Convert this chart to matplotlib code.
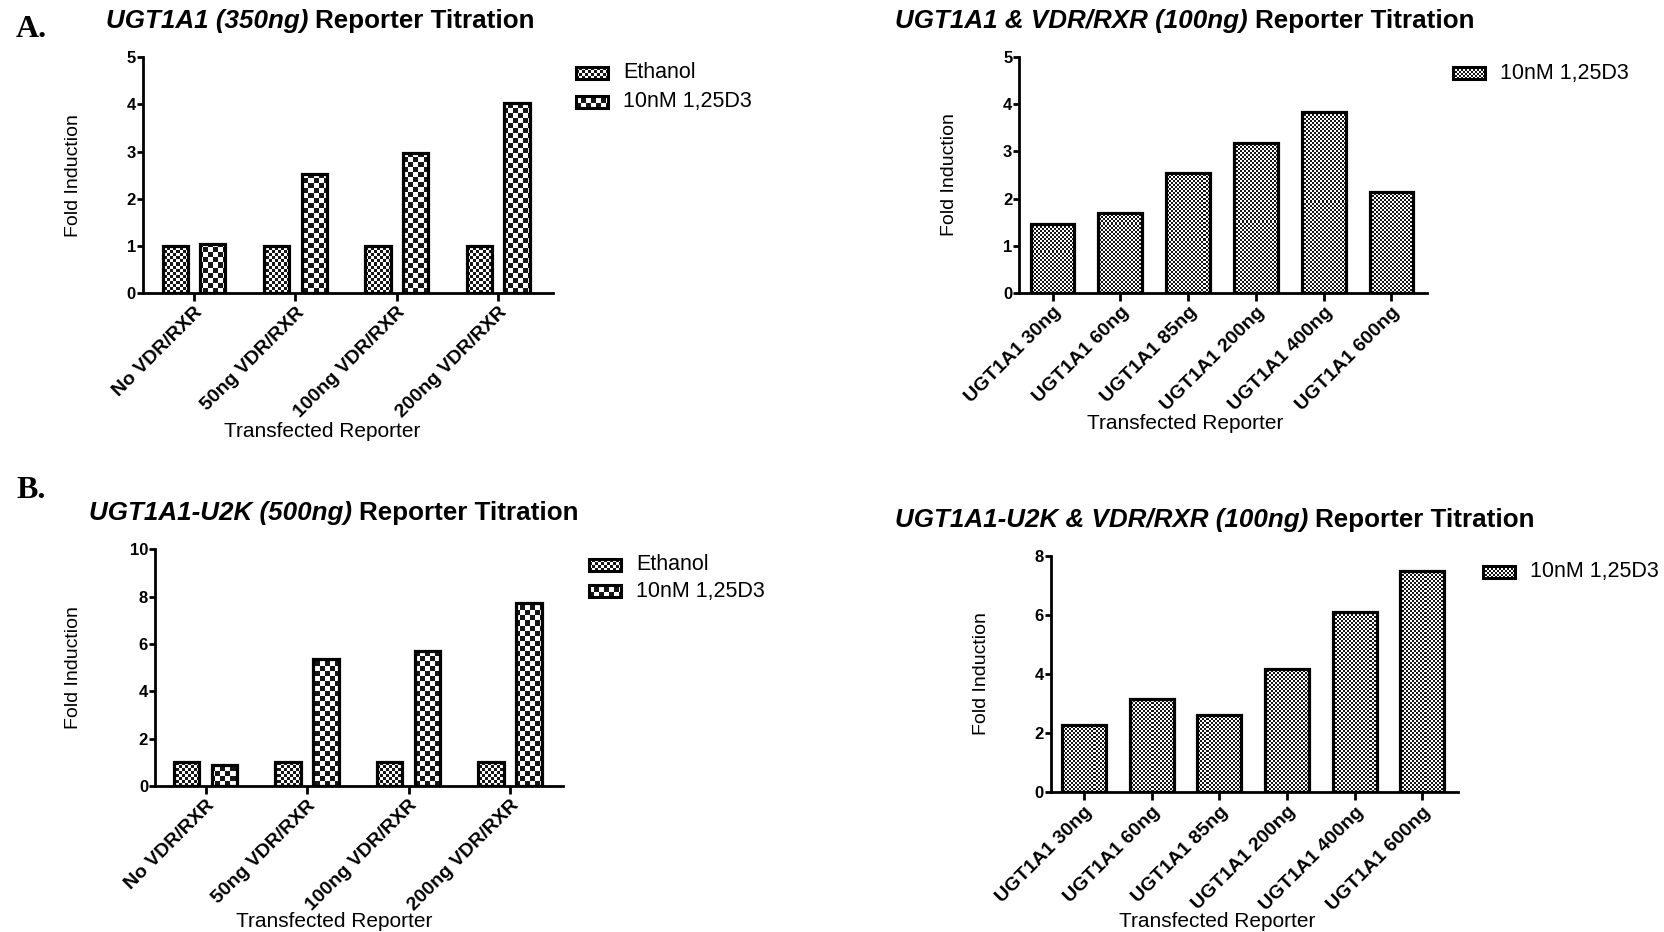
import numpy as np
import matplotlib
matplotlib.use("Agg")
import matplotlib.pyplot as plt
from matplotlib.colors import ListedColormap
from matplotlib.patches import Rectangle

plt.rcParams["font.family"] = ["Liberation Sans", "DejaVu Sans"]

W, H, DPI = 1665, 932, 100

# data
vdr_groups = ["No VDR/RXR", "50ng VDR/RXR", "100ng VDR/RXR", "200ng VDR/RXR"]
reporter_doses = ["UGT1A1 30ng", "UGT1A1 60ng", "UGT1A1 85ng",
                  "UGT1A1 200ng", "UGT1A1 400ng", "UGT1A1 600ng"]
series = ["Ethanol", "10nM 1,25D3"]

a_ethanol = [1.0, 1.0, 1.0, 1.0]
a_d3 = [1.04, 2.52, 2.97, 4.03]
a_dose_d3 = [1.45, 1.69, 2.55, 3.19, 3.83, 2.14]

b_ethanol = [1.0, 1.0, 1.0, 1.0]
b_d3 = [0.88, 5.38, 5.69, 7.74]
b_dose_d3 = [2.26, 3.16, 2.60, 4.17, 6.10, 7.49]

checker_cmap = ListedColormap(["#161616", "#ffffff"])
FINE, MID, COARSE = 2, 3, 5

fig = plt.figure(figsize=(W / DPI, H / DPI), dpi=DPI)
renderer = fig.canvas.get_renderer()


def checker(h, w, cell):
    yy, xx = np.indices((int(h), int(w)))
    return ((yy // cell + xx // cell) % 2).astype(float)


def px_axes(left, top, right, bottom):
    return fig.add_axes([left / W, 1 - bottom / H, (right - left) / W, (bottom - top) / H])


def style_axes(ax, xlim, ymax, ystep, names):
    ax.set_xlim(*xlim)
    ax.set_ylim(0, ymax)
    yt = np.arange(0, ymax + 0.01, ystep)
    ax.set_yticks(yt, labels=[str(int(t)) for t in yt], fontsize=12, fontweight="bold")
    ax.set_xticks(np.arange(len(names)), labels=names, rotation=45, ha="right",
                  rotation_mode="anchor", fontsize=14, fontweight="bold")
    for s in ("top", "right"):
        ax.spines[s].set_visible(False)
    for s in ("left", "bottom"):
        ax.spines[s].set_linewidth(2)
    ax.tick_params(axis="y", length=4, width=2, pad=1)
    ax.tick_params(axis="x", length=6, width=2, pad=2)


def fill_bars(ax, bars, cell):
    x0, x1 = ax.get_xlim()
    y0, y1 = ax.get_ylim()
    pos = ax.get_position()
    tex = checker(round(pos.height * H), round(pos.width * W), cell)
    for bar in bars:
        im = ax.imshow(tex, extent=(x0, x1, y0, y1), origin="lower", aspect="auto",
                       cmap=checker_cmap, vmin=0, vmax=1, interpolation="nearest", zorder=2)
        im.set_clip_path(bar)
    ax.set_xlim(x0, x1)
    ax.set_ylim(y0, y1)


def bars(ax, x, vals, width, cell):
    b = ax.bar(x, vals, width=width, facecolor="none", edgecolor="black",
               linewidth=2.3, zorder=3)
    fill_bars(ax, b.patches, cell)


def swatch(x, yc, cell, label):
    w, h = 32, 12
    y = H - yc - h / 2
    fig.figimage(checker(h, w, cell), xo=int(x), yo=int(y), cmap=checker_cmap,
                 vmin=0, vmax=1, origin="lower")
    fig.add_artist(Rectangle((x / W, y / H), w / W, h / H, transform=fig.transFigure,
                             fill=False, edgecolor="black", linewidth=2.2))
    fig.text((x + w + 15) / W, 1 - yc / H, label, fontsize=15.5, va="center")


def title(x, y, ital, rest):
    t = fig.text(x / W, 1 - y / H, ital, fontsize=18.7, fontweight="bold",
                 fontstyle="italic", va="baseline")
    bb = t.get_window_extent(renderer)
    fig.text((bb.x1 + 7) / W, 1 - y / H, rest, fontsize=18.7, fontweight="bold",
             va="baseline")


def labels(ax, ylab_x, xlab_x, xlab_y):
    pos = ax.get_position()
    fig.text(ylab_x / W, pos.y0 + pos.height / 2, "Fold Induction", rotation=90,
             fontsize=14, ha="center", va="center")
    fig.text(xlab_x / W, 1 - xlab_y / H, "Transfected Reporter", fontsize=15,
             ha="center", va="baseline")


# A, left: UGT1A1 350ng
ax1 = px_axes(142.7, 57.3, 553, 293)
style_axes(ax1, (-0.506, 3.54), 5, 1, vdr_groups)
x4 = np.arange(len(vdr_groups))
bars(ax1, x4 - 0.185, a_ethanol, 0.25, MID)
bars(ax1, x4 + 0.185, a_d3, 0.25, COARSE)
title(106, 28, "UGT1A1 (350ng)", "Reporter Titration")
labels(ax1, 74, 322, 437)
swatch(576, 73, MID, series[0])
swatch(576, 102, COARSE, series[1])

# A, right: UGT1A1 & VDR/RXR 100ng
ax2 = px_axes(1019.3, 57.3, 1426.7, 292.7)
style_axes(ax2, (-0.49, 5.52), 5, 1, reporter_doses)
x6 = np.arange(len(reporter_doses))
bars(ax2, x6, a_dose_d3, 0.645, FINE)
title(895, 28, "UGT1A1 & VDR/RXR (100ng)", "Reporter Titration")
labels(ax2, 950, 1185, 429)
swatch(1453, 73, FINE, series[1])

# B, left: UGT1A1-U2K 500ng
ax3 = px_axes(155, 549.3, 562.7, 786)
style_axes(ax3, (-0.5, 3.52), 10, 2, vdr_groups)
bars(ax3, x4 - 0.187, b_ethanol, 0.25, MID)
bars(ax3, x4 + 0.187, b_d3, 0.25, COARSE)
title(89, 520, "UGT1A1-U2K (500ng)", "Reporter Titration")
labels(ax3, 74, 334, 927)
swatch(589, 565, MID, series[0])
swatch(589, 591, COARSE, series[1])

# B, right: UGT1A1-U2K & VDR/RXR 100ng
ax4 = px_axes(1050.7, 555.7, 1458.3, 792.3)
style_axes(ax4, (-0.49, 5.53), 8, 2, reporter_doses)
bars(ax4, x6, b_dose_d3, 0.65, FINE)
title(895, 527, "UGT1A1-U2K & VDR/RXR (100ng)", "Reporter Titration")
labels(ax4, 982, 1217, 927)
swatch(1483, 572, FINE, series[1])

fig.text(16 / W, 1 - 37 / H, "A.", family="Liberation Serif", fontsize=23,
         fontweight="bold", va="baseline")
fig.text(16 / W, 1 - 498 / H, "B.", family="Liberation Serif", fontsize=23,
         fontweight="bold", va="baseline")

fig.savefig("out.png", dpi=DPI)
